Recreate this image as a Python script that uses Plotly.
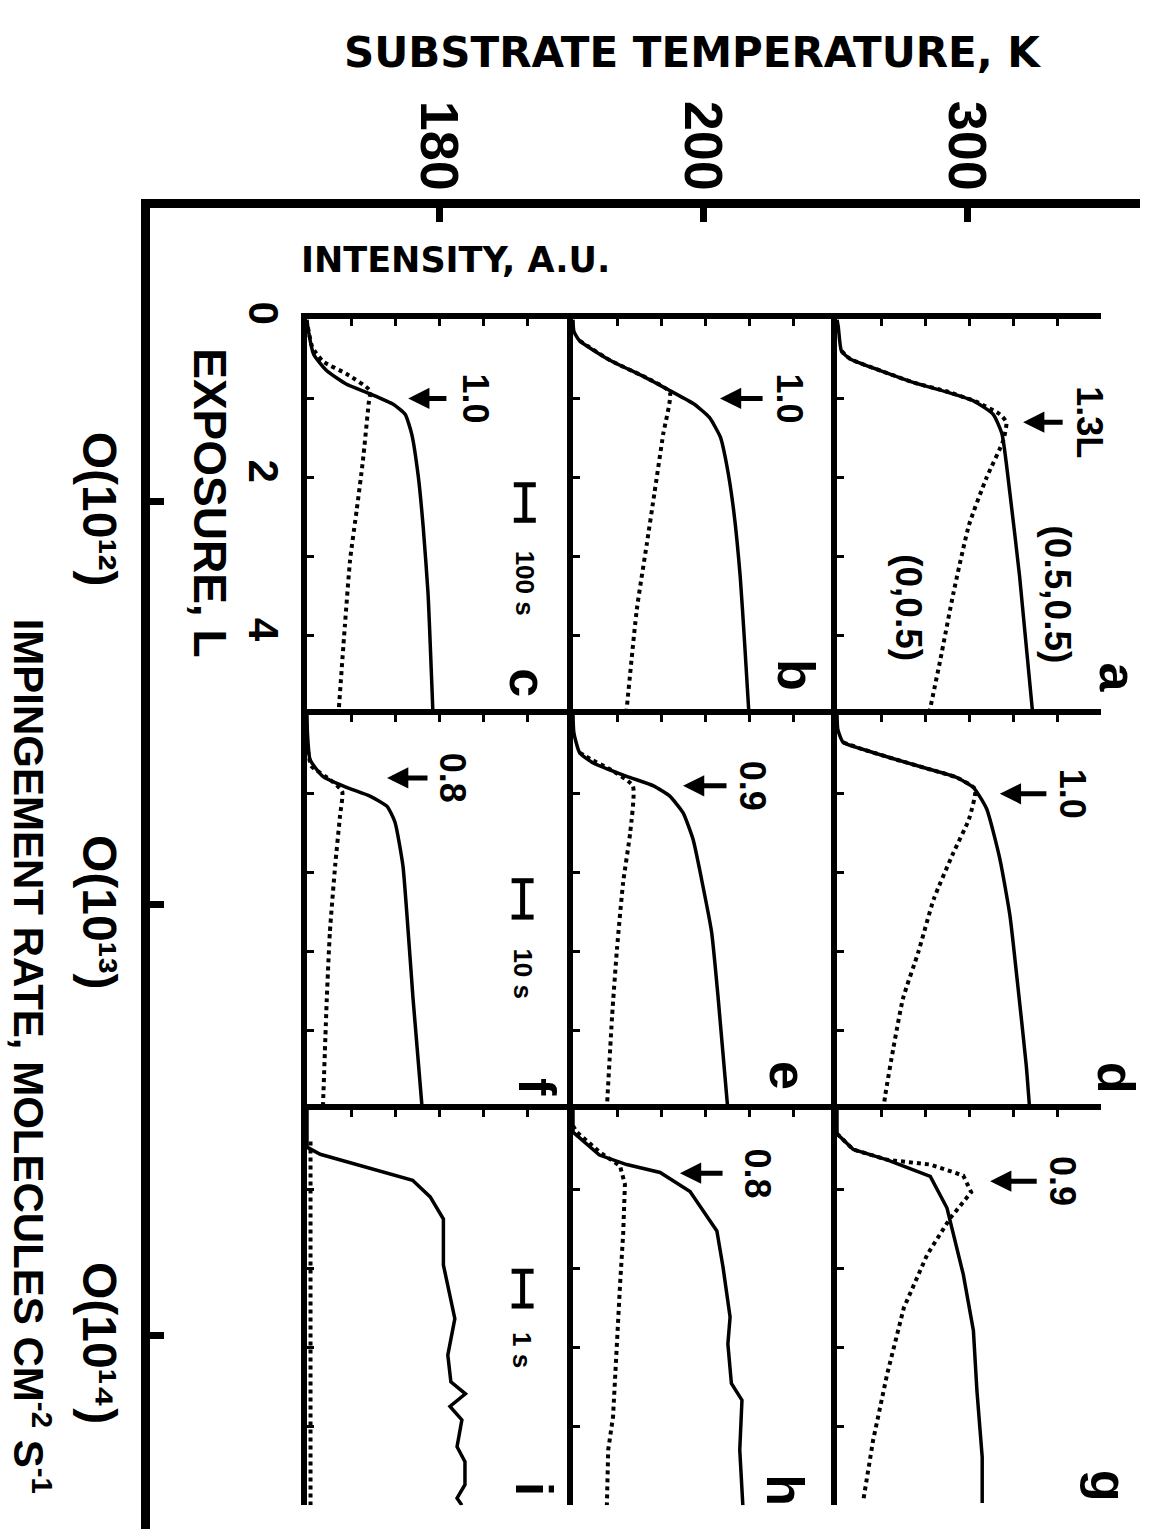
import plotly.graph_objects as go

W, H = 1157, 1529

# ---------------- data ----------------
temperatures = ["180", "200", "300"]                     # substrate temperature, K (columns)
rates = ["O(10¹²)", "O(10¹³)", "O(10¹⁴)"]                 # impingement rate (rows)

# exposure (L) / intensity (a.u.) for each panel; solid = (0.5,0.5) beam, dotted = (0,0.5) beam
a_solid_E = [0, 0.1, 0.4, 0.5, 0.65, 0.8, 0.92, 1.03, 1.2, 1.45, 2.2, 3.25, 5.0]
a_solid_I = [0, 0.03, 0.1, 0.3, 1.0, 1.75, 2.5, 3.1, 3.55, 3.75, 3.93, 4.15, 4.45]
a_dot_E = [0.4, 0.5, 0.65, 0.8, 0.92, 1.05, 1.2, 1.3, 1.53, 2.0, 2.6, 3.45, 4.3, 4.97]
a_dot_I = [0.1, 0.3, 1.0, 1.75, 2.55, 3.2, 3.7, 3.85, 3.78, 3.4, 3.0, 2.65, 2.35, 2.1]

b_solid_E = [0, 0.15, 0.27, 0.52, 0.72, 0.9, 1.07, 1.24, 1.49, 1.86, 2.41, 3.25, 4.09, 5.0]
b_solid_I = [0, 0.02, 0.15, 0.85, 1.6, 2.2, 2.75, 3.1, 3.35, 3.5, 3.65, 3.8, 3.9, 4.0]
b_dot_E = [0.27, 0.52, 0.72, 0.92, 1.45, 2.2, 2.83, 3.67, 4.93]
b_dot_I = [0.15, 0.85, 1.6, 2.2, 2.05, 1.85, 1.68, 1.45, 1.22]

c_solid_E = [0, 0.1, 0.44, 0.65, 0.82, 0.94, 1.07, 1.2, 1.45, 1.99, 2.62, 3.46, 4.95]
c_solid_I = [0, 0.02, 0.15, 0.45, 0.9, 1.43, 1.95, 2.23, 2.38, 2.53, 2.64, 2.75, 2.86]
c_dot_E = [0.1, 0.35, 0.53, 0.69, 0.9, 1.07, 1.79, 2.41, 3.04, 3.88, 4.95]
c_dot_I = [0.02, 0.12, 0.36, 0.9, 1.43, 1.4, 1.27, 1.13, 0.98, 0.86, 0.72]

d_solid_E = [0, 0.19, 0.35, 0.44, 0.57, 0.69, 0.79, 0.92, 1.19, 1.82, 2.54, 3.38, 4.43, 5.0]
d_solid_I = [0, 0.02, 0.14, 0.6, 1.36, 2.1, 2.7, 3.1, 3.4, 3.7, 3.93, 4.1, 4.3, 4.38]
d_dot_E = [0.35, 0.44, 0.57, 0.69, 0.79, 0.94, 1.32, 1.74, 2.33, 3.0, 3.59, 4.22, 4.8, 5.0]
d_dot_I = [0.14, 0.6, 1.36, 2.1, 2.7, 3.14, 3.0, 2.65, 2.2, 1.85, 1.5, 1.28, 1.1, 1.05]

e_solid_E = [0, 0.23, 0.48, 0.61, 0.78, 0.9, 1.03, 1.24, 1.58, 2.16, 2.75, 3.59, 5.0]
e_solid_I = [0, 0.02, 0.15, 0.46, 1.22, 1.83, 2.2, 2.5, 2.73, 2.95, 3.15, 3.3, 3.52]
e_dot_E = [0.48, 0.56, 0.69, 0.9, 1.49, 2.12, 2.96, 3.8, 4.97]
e_dot_I = [0.15, 0.39, 0.84, 1.36, 1.3, 1.14, 1.0, 0.89, 0.77]

f_solid_E = [0, 0.23, 0.57, 0.78, 0.92, 1.03, 1.16, 1.36, 1.91, 2.75, 3.59, 5.0]
f_solid_I = [0, 0.01, 0.07, 0.36, 0.9, 1.43, 1.82, 2.0, 2.18, 2.3, 2.41, 2.62]
f_dot_E = [0.45, 0.65, 0.82, 0.97, 1.28, 1.91, 2.75, 3.59, 5.0]
f_dot_I = [0.02, 0.1, 0.52, 0.8, 0.75, 0.64, 0.52, 0.45, 0.36]

g_solid_E = [0, 0.3, 0.5, 0.63, 0.84, 1.24, 2.08, 2.79, 3.55, 4.39, 4.97]
g_solid_I = [0, 0.0, 0.37, 1.14, 2.12, 2.5, 2.87, 3.1, 3.18, 3.3, 3.3]
g_dot_E = [0.3, 0.5, 0.63, 0.69, 0.83, 1.04, 1.37, 1.83, 2.5, 3.34, 4.18, 4.93]
g_dot_I = [0.0, 0.37, 1.14, 2.12, 2.87, 3.05, 2.57, 2.05, 1.52, 1.14, 0.82, 0.6]

h_solid_E = [0, 0.28, 0.57, 0.69, 0.79, 1.03, 1.53, 1.99, 2.62, 2.96, 3.46, 3.67, 4.3, 5.0]
h_solid_I = [0, 0.0, 0.6, 1.22, 1.98, 2.66, 3.27, 3.41, 3.57, 3.52, 3.6, 3.84, 3.79, 3.86]
h_dot_E = [0.2, 0.28, 0.53, 0.71, 0.94, 1.57, 2.2, 3.04, 3.88, 4.3, 5.0]
h_dot_I = [0.0, 0.09, 0.6, 1.07, 1.18, 1.14, 1.07, 0.99, 0.91, 0.8, 0.77]

i_solid_E = [0, 0.47, 0.56, 0.75, 0.89, 1.1, 1.38, 1.96, 2.64, 3.1, 3.44, 3.59, 3.75, 3.92, 4.26, 4.45, 4.74, 4.91, 5.0]
i_solid_I = [0, 0.0, 0.3, 1.5, 2.4, 2.8, 3.1, 3.1, 3.36, 3.2, 3.27, 3.6, 3.25, 3.52, 3.41, 3.59, 3.59, 3.41, 3.52]
i_dot_E = [0.4, 5.0]
i_dot_I = [0.08, 0.08]

# arrows marking the exposure of the intensity maximum (label value in L)
arrow_text = {"a": "1.3L", "b": "1.0", "c": "1.0", "d": "1.0", "e": "0.9", "f": "0.8", "g": "0.9", "h": "0.8"}
arrow_E = {"a": 1.3, "b": 1.0, "c": 1.0, "d": 1.0, "e": 0.9, "f": 0.8, "g": 0.9, "h": 0.8}
arrow_head_I = {"a": 4.23, "b": 3.34, "c": 2.3, "d": 3.7, "e": 2.5, "f": 1.82, "g": 3.48, "h": 2.43}
arrow_tail_I = {"a": 5.14, "b": 4.32, "c": 3.18, "d": 4.77, "e": 3.5, "f": 2.75, "g": 4.55, "h": 3.41}
arrow_label_I = {"a": 5.75, "b": 4.93, "c": 3.82, "d": 5.34, "e": 4.07, "f": 3.3, "g": 5.14, "h": 4.2}

# time scale bars (panels c, f, i)
bar_text = {"c": "100 s", "f": "10 s", "i": "1 s"}
bar_E0 = {"c": 2.09, "f": 2.1, "i": 2.04}
bar_E1 = {"c": 2.54, "f": 2.56, "i": 2.48}
bar_I = {"c": 4.95, "f": 4.9, "i": 4.9}
bar_label_E = {"c": 3.34, "f": 3.28, "i": 3.03}

# ---------------- layout constants ----------------
panels = ["a", "b", "c", "d", "e", "f", "g", "h", "i"]
panel_pos = {"a": (0, 2), "b": (0, 1), "c": (0, 0),
             "d": (1, 2), "e": (1, 1), "f": (1, 0),
             "g": (2, 2), "h": (2, 1), "i": (2, 0)}
col_left = [307, 573, 837]
row_top = [305, 705, 1105]
col_w, row_h = 264, 400
I_MAX, E_MAX = 6.0, 5.0
letter_pos = {"a": (6.39, 4.53), "b": (5.07, 4.5), "c": (5.02, 4.6),
              "d": (6.36, 4.59), "e": (4.89, 4.56), "f": (5.23, 4.71),
              "g": (6.2, 4.75), "h": (4.82, 4.81), "i": (5.16, 4.79)}
rate_tick_pos = [-0.04, 0.98, 2.07]
FRAME_TOP = 192

SANS = "Liberation Sans, Arial, Helvetica, sans-serif"
WIDE = "DejaVu Sans, Verdana, sans-serif"

data = {
    "a": (a_solid_E, a_solid_I, a_dot_E, a_dot_I),
    "b": (b_solid_E, b_solid_I, b_dot_E, b_dot_I),
    "c": (c_solid_E, c_solid_I, c_dot_E, c_dot_I),
    "d": (d_solid_E, d_solid_I, d_dot_E, d_dot_I),
    "e": (e_solid_E, e_solid_I, e_dot_E, e_dot_I),
    "f": (f_solid_E, f_solid_I, f_dot_E, f_dot_I),
    "g": (g_solid_E, g_solid_I, g_dot_E, g_dot_I),
    "h": (h_solid_E, h_solid_I, h_dot_E, h_dot_I),
    "i": (i_solid_E, i_solid_I, i_dot_E, i_dot_I),
}
smooth_panels = {"a", "b", "c", "d", "e", "f"}

fig = go.Figure()
layout = dict(width=W, height=H, margin=dict(l=0, r=0, t=0, b=0),
              paper_bgcolor="white", plot_bgcolor="rgba(0,0,0,0)",
              showlegend=False, annotations=[])

def axname(n, kind):
    return kind if n == 1 else f"{kind}{n}"

def bold(size, family=SANS):
    return dict(family=family, size=size, color="black", weight="bold")

for n, p in enumerate(panels, start=1):
    r, c = panel_pos[p]
    xa, ya = axname(n, "x"), axname(n, "y")
    sE, sI, dE, dI = data[p]
    shape = "spline" if p in smooth_panels else "linear"
    fig.add_trace(go.Scatter(x=dI, y=dE, xaxis=xa, yaxis=ya, mode="lines",
                             line=dict(color="black", width=4, dash="4px,4px", shape=shape, smoothing=0.5),
                             hoverinfo="skip"))
    fig.add_trace(go.Scatter(x=sI, y=sE, xaxis=xa, yaxis=ya, mode="lines",
                             line=dict(color="black", width=3.5, shape=shape, smoothing=0.5),
                             hoverinfo="skip"))
    x0 = col_left[c]
    y0 = row_top[r]
    layout[axname(n, "xaxis")] = dict(
        domain=[x0 / W, (x0 + col_w) / W], range=[0, I_MAX], anchor=ya, side="top",
        showline=True, linewidth=6, linecolor="black", ticks="inside",
        tickmode="array", tickvals=[1, 2, 3, 4, 5], ticklen=7, tickwidth=3, tickcolor="black",
        showticklabels=False, showgrid=False, zeroline=False)
    ydict = dict(
        domain=[1 - (y0 + row_h) / H, 1 - y0 / H], range=[E_MAX, 0], anchor=xa, side="left",
        showline=True, linewidth=6, linecolor="black", ticks="inside",
        tickmode="array", tickvals=[1, 2, 3, 4], ticklen=7, tickwidth=3, tickcolor="black",
        showticklabels=False, showgrid=False, zeroline=False)
    if p == "c":
        ydict.update(tickvals=[0, 1, 2, 3, 4], ticktext=["0", "", "2", "", "4"],
                     showticklabels=True, tickangle=90, ticklabelstandoff=2,
                     tickfont=bold(42))
    layout[axname(n, "yaxis")] = ydict

    # panel letter (domain-referenced x so it may sit beyond the axis end)
    lx, ly = letter_pos[p]
    layout["annotations"].append(dict(
        x=lx / I_MAX, y=ly, xref=f"{xa} domain", yref=ya, text=p, showarrow=False, textangle=90,
        font=bold(52), xanchor="center", yanchor="middle"))

    if p in arrow_text:
        layout["annotations"].append(dict(
            x=arrow_head_I[p], y=arrow_E[p], ax=arrow_tail_I[p], ay=arrow_E[p],
            xref=xa, yref=ya, axref=xa, ayref=ya, text="", showarrow=True,
            font=dict(size=1), borderpad=0,
            arrowhead=2, arrowsize=0.85, arrowwidth=5, arrowcolor="black", standoff=0))
        layout["annotations"].append(dict(
            x=arrow_label_I[p], y=arrow_E[p], xref=xa, yref=ya, text=arrow_text[p],
            showarrow=False, textangle=90, font=bold(36),
            xanchor="center", yanchor="middle"))

    if p in bar_text:
        bx = bar_I[p]
        e0, e1 = bar_E0[p], bar_E1[p]
        fig.add_trace(go.Scatter(
            x=[bx, bx, None, bx - 0.25, bx + 0.25, None, bx - 0.25, bx + 0.25],
            y=[e0, e1, None, e0, e0, None, e1, e1],
            xaxis=xa, yaxis=ya, mode="lines", line=dict(color="black", width=5),
            hoverinfo="skip"))
        layout["annotations"].append(dict(
            x=bx, y=bar_label_E[p], xref=xa, yref=ya, text=bar_text[p],
            showarrow=False, textangle=90, font=bold(26),
            xanchor="center", yanchor="middle"))

# curve labels in panel a
layout["annotations"].append(dict(x=5.0, y=3.48, xref="x", yref="y", text="(0.5,0.5)",
                                  showarrow=False, textangle=90, font=bold(37)))
layout["annotations"].append(dict(x=1.61, y=3.65, xref="x", yref="y", text="(0,0.5)",
                                  showarrow=False, textangle=90, font=bold(37)))

# ---------------- outer frame: temperature (top) and impingement rate (left) ----------------
fig.add_trace(go.Scatter(x=[], y=[], xaxis="x10", yaxis="y10", mode="lines", hoverinfo="skip"))
layout["xaxis10"] = dict(
    domain=[150 / W, 1140 / W], range=[(150 - 439) / col_w, (1140 - 439) / col_w],
    anchor="y10", side="top", showline=True, linewidth=9, linecolor="black",
    ticks="inside", ticklen=14, tickwidth=7, tickcolor="black",
    tickmode="array", tickvals=[0, 1, 2], ticktext=temperatures, tickangle=90,
    ticklabelstandoff=-11, tickfont=bold(54),
    showgrid=False, zeroline=False)
layout["yaxis10"] = dict(
    domain=[0, 1 - FRAME_TOP / H], range=[(H - 505) / row_h, (FRAME_TOP - 505) / row_h],
    anchor="x10", side="left", showline=True, linewidth=9, linecolor="black",
    ticks="inside", ticklen=14, tickwidth=7, tickcolor="black",
    tickmode="array", tickvals=rate_tick_pos, ticktext=rates, tickangle=90,
    ticklabelstandoff=0, ticklabelshift=-15, tickfont=bold(48),
    showgrid=False, zeroline=False)

# titles
layout["annotations"] += [
    dict(x=692 / W, y=1 - 35 / H, xref="paper", yref="paper", text="SUBSTRATE TEMPERATURE, K",
         showarrow=False, font=bold(42, WIDE), xanchor="center", yanchor="middle"),
    dict(x=455 / W, y=1 - 245 / H, xref="paper", yref="paper", text="INTENSITY, A.U.",
         showarrow=False, font=bold(35, WIDE), xanchor="center", yanchor="middle"),
    dict(x=210 / W, y=1 - 490 / H, xref="paper", yref="paper", text="EXPOSURE, L",
         showarrow=False, textangle=90, font=bold(46), xanchor="center", yanchor="middle"),
    dict(x=32 / W, y=1 - 1050 / H, xref="paper", yref="paper",
         text="IMPINGEMENT RATE, MOLECULES CM<sup>-2</sup> S<sup>-1</sup>",
         showarrow=False, textangle=90, font=bold(42), xanchor="center", yanchor="middle"),
]

fig.update_layout(**layout)
fig.write_html("out.html", post_script="document.body.style.margin='0px';")
